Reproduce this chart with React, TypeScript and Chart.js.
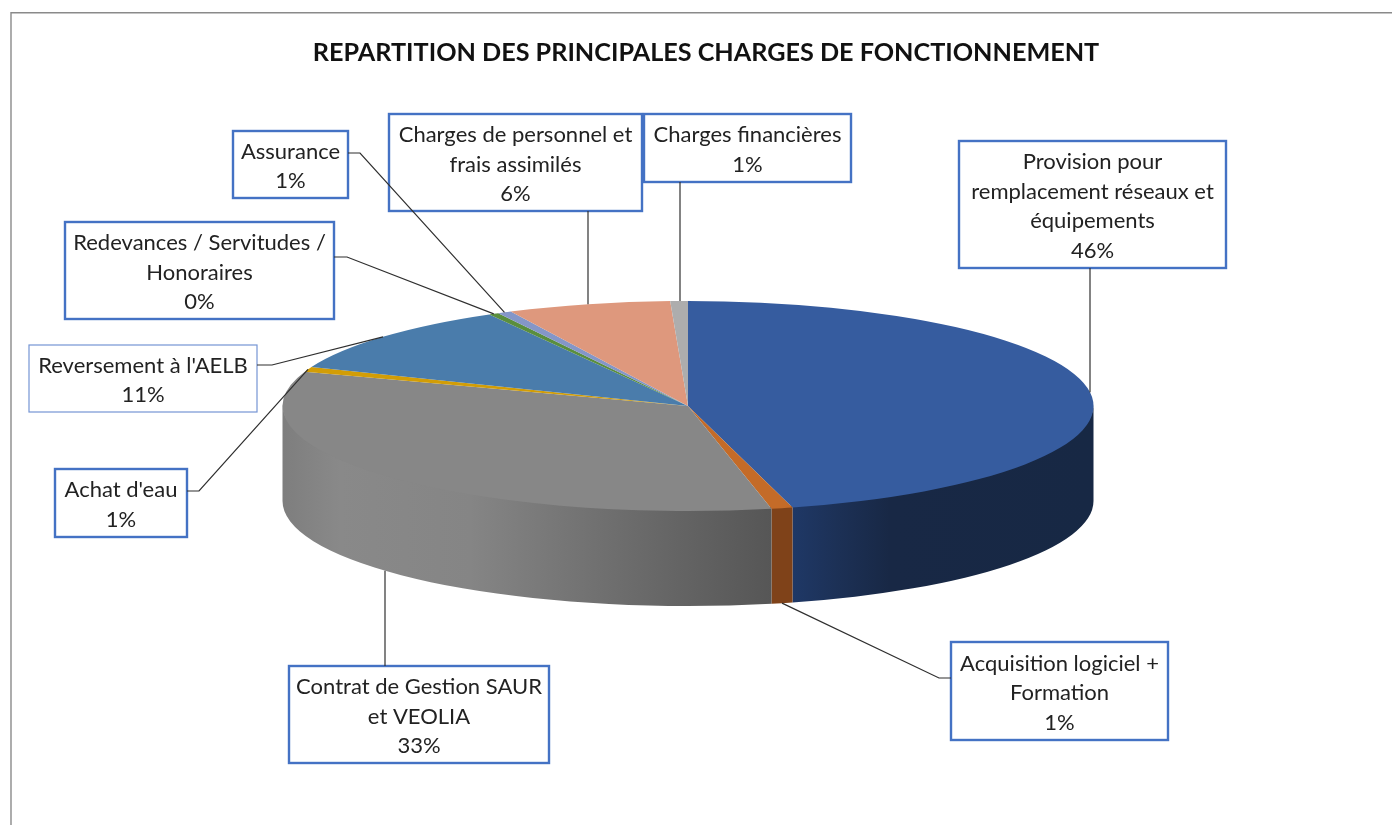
import React, { useEffect, useRef } from "react";
import { Chart, registerables } from "chart.js";

Chart.register(...registerables);

const chartTitle = "REPARTITION DES PRINCIPALES CHARGES DE FONCTIONNEMENT";

const categories = [
  "Provision pour remplacement réseaux et équipements",
  "Acquisition logiciel + Formation",
  "Contrat de Gestion SAUR et VEOLIA",
  "Achat d'eau",
  "Reversement à l'AELB",
  "Redevances / Servitudes / Honoraires",
  "Assurance",
  "Charges de personnel et frais assimilés",
  "Charges financières",
];
const shares = [45.85, 0.85, 33.6, 0.75, 10.8, 0.4, 0.55, 6.5, 0.7];
const percentLabels = ["46%", "1%", "33%", "1%", "11%", "0%", "1%", "6%", "1%"];
const labelLines = [
  ["Provision pour", "remplacement réseaux et", "équipements"],
  ["Acquisition logiciel +", "Formation"],
  ["Contrat de Gestion SAUR", "et VEOLIA"],
  ["Achat d'eau"],
  ["Reversement à l'AELB"],
  ["Redevances / Servitudes /", "Honoraires"],
  ["Assurance"],
  ["Charges de personnel et", "frais assimilés"],
  ["Charges financières"],
];
const topColors = ["#365c9f", "#c46b28", "#878787", "#d29d06", "#4a7cab", "#5a8e3e", "#8496c8", "#de987d", "#adadad"];
// wall gradient stops per slice: [x, colour]
const wallStops: [number, string][][] = [
  [[793, "#1f3866"], [840, "#1c3055"], [890, "#182845"], [1094, "#172844"]],
  [[772, "#7f4219"], [794, "#7f4219"]],
  [[283, "#7e7e7e"], [340, "#898989"], [470, "#858585"], [600, "#707070"], [772, "#565656"]],
  [[283, "#7e7e7e"], [300, "#7e7e7e"]],
  [[283, "#7e7e7e"], [300, "#7e7e7e"]],
  [[283, "#7e7e7e"], [300, "#7e7e7e"]],
  [[283, "#7e7e7e"], [300, "#7e7e7e"]],
  [[283, "#7e7e7e"], [300, "#7e7e7e"]],
  [[283, "#7e7e7e"], [300, "#7e7e7e"]],
];

// Layout of the 3D projection
const PIE = { cx: 688, cy: 406, rx: 405.5, ry: 105, depth: 95 };

// Layout of callouts: box [x0,y0,x1,y1], elbow from box, anchor on rim or wall bottom
const boxes = [
  [959, 141, 1226, 268],
  [951, 642, 1168, 740],
  [289, 666, 549, 763],
  [55, 469, 187, 537],
  [29, 345, 257, 412],
  [65, 222, 334, 319],
  [233, 131, 348, 198],
  [389, 114, 642, 211],
  [644, 114, 851, 182],
];
const leaderStarts: number[][][] = [
  [[1090, 268]],
  [[951, 678], [939, 678]],
  [[385, 666]],
  [[187, 491], [199, 491]],
  [[257, 365], [272, 365]],
  [[334, 257], [347, 257]],
  [[348, 153], [360, 153]],
  [[588, 211]],
  [[680, 182]],
];
const anchorOnWall = [false, true, true, false, false, false, false, false, false];
const thinBorder = [false, false, false, false, true, false, false, false, false];

const FONT = "22px Lato";
const LINE = 29.5;
const TEXT_SHIFT = 2;

const pie3d = {
  id: "pie3d",
  beforeDraw(chart: any) {
    const { ctx } = chart;
    ctx.save();
    ctx.fillStyle = "#ffffff";
    ctx.fillRect(0, 0, chart.width, chart.height);
    ctx.strokeStyle = "#8a8a8a";
    ctx.lineWidth = 1.4;
    ctx.beginPath();
    ctx.moveTo(11, chart.height);
    ctx.lineTo(11, 12.7);
    ctx.lineTo(chart.width, 12.7);
    ctx.stroke();
    ctx.restore();
  },
  beforeDatasetsDraw(chart: any) {
    const { ctx } = chart;
    const arcs = chart.getDatasetMeta(0).data;
    const { cx, cy, rx, ry, depth } = PIE;
    arcs.forEach((arc: any, i: number) => {
      const a = Math.max(arc.startAngle, 0);
      const b = Math.min(arc.endAngle, Math.PI);
      if (b <= a) return;
      const g = ctx.createLinearGradient(283, 0, 1094, 0);
      wallStops[i].forEach(([x, c]) => g.addColorStop((x - 283) / 811, c));
      ctx.beginPath();
      // the wall starts slightly above the rim so the top face overlaps it without a seam
      ctx.ellipse(cx, cy - 2, rx, ry, 0, a, b);
      ctx.ellipse(cx, cy + depth, rx, ry, 0, b, a, true);
      ctx.closePath();
      ctx.fillStyle = g;
      ctx.fill();
    });
    const arc0 = arcs[0];
    ctx.save();
    ctx.translate(cx, cy);
    ctx.scale(rx / arc0.outerRadius, ry / arc0.outerRadius);
    ctx.translate(-arc0.x, -arc0.y);
  },
  afterDatasetsDraw(chart: any) {
    const { ctx } = chart;
    ctx.restore();
    const arcs = chart.getDatasetMeta(0).data;
    const { cx, cy, rx, ry, depth } = PIE;
    boxes.forEach(([x0, y0, x1, y1], i) => {
      ctx.fillStyle = "#ffffff";
      ctx.fillRect(x0, y0, x1 - x0, y1 - y0);
      ctx.strokeStyle = thinBorder[i] ? "#7595d4" : "#4472c4";
      ctx.lineWidth = thinBorder[i] ? 1.2 : 2.4;
      ctx.strokeRect(x0, y0, x1 - x0, y1 - y0);
    });
    // leaders, ending at each slice's mid angle (vertical ones drop straight onto the edge)
    arcs.forEach((arc: any, i: number) => {
      const mid = (arc.startAngle + arc.endAngle) / 2;
      const starts = leaderStarts[i];
      const side = Math.sin(mid) >= 0 ? 1 : -1;
      const ax = starts.length === 1 ? starts[0][0] : cx + rx * Math.cos(mid);
      const ay =
        cy + side * ry * Math.sqrt(Math.max(0, 1 - ((ax - cx) / rx) ** 2)) + (anchorOnWall[i] ? depth : 0);
      ctx.strokeStyle = "#2f2f2f";
      ctx.lineWidth = 1.2;
      ctx.beginPath();
      starts.forEach(([x, y], k) => (k ? ctx.lineTo(x, y) : ctx.moveTo(x, y)));
      ctx.lineTo(ax, ay);
      ctx.stroke();
    });
    ctx.fillStyle = "#222222";
    ctx.font = FONT;
    ctx.textAlign = "center";
    ctx.textBaseline = "middle";
    boxes.forEach(([x0, y0, x1, y1], i) => {
      const lines = [...labelLines[i], percentLabels[i]];
      const mx = (x0 + x1) / 2;
      const my = (y0 + y1) / 2 + TEXT_SHIFT;
      lines.forEach((t, k) => {
        ctx.fillText(t, mx, my + (k - (lines.length - 1) / 2) * LINE);
      });
    });
  },
};

export default function App() {
  const ref = useRef<HTMLCanvasElement>(null);
  useEffect(() => {
    const chart = new Chart(ref.current as HTMLCanvasElement, {
      type: "pie",
      data: {
        labels: categories,
        datasets: [
          {
            data: shares,
            backgroundColor: topColors,
            borderWidth: 0,
            radius: 405,
            clip: 2000,
          } as any,
        ],
      },
      options: {
        responsive: false,
        animation: false,
        layout: { padding: { left: 20, top: 0, right: 0, bottom: 0 } },
        plugins: {
          legend: { display: false },
          tooltip: { enabled: false },
          title: {
            display: true,
            text: chartTitle,
            color: "#111111",
            font: { family: "Lato", size: 25.2, weight: "bold" },
            padding: { top: 38, bottom: 10 },
          },
        },
      },
      plugins: [pie3d],
    } as any);
    return () => chart.destroy();
  }, []);
  return (
    <div style={{ position: "absolute", left: 0, top: 0, width: 1392, height: 825 }}>
      <canvas ref={ref} width={1392} height={825} style={{ display: "block", filter: "blur(0.4px)" }} />
    </div>
  );
}
